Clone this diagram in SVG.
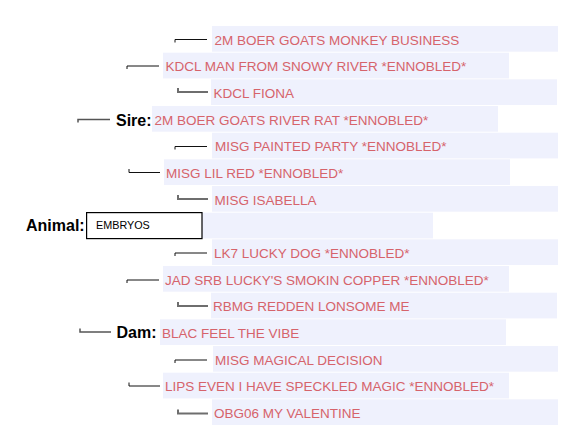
<svg xmlns="http://www.w3.org/2000/svg" width="588" height="442" viewBox="0 0 588 442">
<style>
.bg{fill:#eff1fd}
.t{font-family:"Liberation Sans",Arial,sans-serif;font-size:13.5px;fill:#d6636b}
.lb{font-family:"Liberation Sans",Arial,sans-serif;font-size:16px;font-weight:bold;fill:#000}
.cd{fill:none;stroke:#111;stroke-width:1}
.cg{fill:none;stroke:#6e6e6e;stroke-width:2}
.cm{fill:none;stroke:#555;stroke-width:1.5}
.box{fill:#fff;stroke:#000;stroke-width:1.2}
.bt{font-family:"Liberation Sans",Arial,sans-serif;font-size:10.8px;fill:#000}
</style>
<rect width="588" height="442" fill="#fff"/>
<g id="connectors">
<path class="cd" d="M175 42.5V39.5H207"/>
<path class="cd" d="M127 69V66H159"/>
<path class="cg" d="M178 88V92H208"/>
<path class="cm" d="M78 122.5V119.5H110"/>
<path class="cd" d="M175 149.5V146.5H207"/>
<path class="cd" d="M129 169V172.5H160"/>
<path class="cg" d="M178 195V199H208"/>
<path class="cd" d="M175 256V253H207"/>
<path class="cd" d="M127 283V280H159"/>
<path class="cg" d="M178 302V306H208"/>
<path class="cm" d="M80 328.5V332H111"/>
<path class="cd" d="M175 363V360H207"/>
<path class="cd" d="M129 382.5V386H160"/>
<path class="cg" d="M178 409.5V413.5H208"/>
</g>
<g id="sire-sire-sire"><rect class="bg" x="212" y="26" width="346" height="25.7"/><text class="t" x="214.5" y="44.5">2M BOER GOATS MONKEY BUSINESS</text></g>
<g id="sire-sire"><rect class="bg" x="163" y="52.7" width="346" height="25.7"/><text class="t" x="165.5" y="71.2">KDCL MAN FROM SNOWY RIVER *ENNOBLED*</text></g>
<g id="sire-sire-dam"><rect class="bg" x="211" y="79.3" width="346" height="25.7"/><text class="t" x="213.5" y="97.8">KDCL FIONA</text></g>
<g id="sire"><text class="lb" x="116" y="125.5">Sire:</text><rect class="bg" x="152" y="106" width="346" height="25.7"/><text class="t" x="154.5" y="124.5">2M BOER GOATS RIVER RAT *ENNOBLED*</text></g>
<g id="sire-dam-sire"><rect class="bg" x="212" y="132.7" width="346" height="25.7"/><text class="t" x="215" y="151.2">MISG PAINTED PARTY *ENNOBLED*</text></g>
<g id="sire-dam"><rect class="bg" x="164" y="159.3" width="346" height="25.7"/><text class="t" x="166" y="177.8">MISG LIL RED *ENNOBLED*</text></g>
<g id="sire-dam-dam"><rect class="bg" x="212" y="186" width="346" height="25.7"/><text class="t" x="214.5" y="204.5">MISG ISABELLA</text></g>
<g id="animal"><text class="lb" x="26" y="230.5">Animal:</text><rect class="bg" x="202" y="212.7" width="231" height="25.7"/><rect class="box" x="86.6" y="212.6" width="115.4" height="26"/><text class="bt" x="96" y="228.5">EMBRYOS</text></g>
<g id="dam-sire-sire"><rect class="bg" x="212" y="239.3" width="346" height="25.7"/><text class="t" x="214" y="257.8">LK7 LUCKY DOG *ENNOBLED*</text></g>
<g id="dam-sire"><rect class="bg" x="163" y="266" width="346" height="25.7"/><text class="t" x="165" y="284.5">JAD SRB LUCKY'S SMOKIN COPPER *ENNOBLED*</text></g>
<g id="dam-sire-dam"><rect class="bg" x="211" y="292.7" width="346" height="25.7"/><text class="t" x="213" y="311.2">RBMG REDDEN LONSOME ME</text></g>
<g id="dam"><text class="lb" x="116.5" y="337.5">Dam:</text><rect class="bg" x="160" y="319.3" width="346" height="25.7"/><text class="t" x="162" y="337.8">BLAC FEEL THE VIBE</text></g>
<g id="dam-dam-sire"><rect class="bg" x="213" y="346" width="345" height="25.7"/><text class="t" x="215" y="364.5">MISG MAGICAL DECISION</text></g>
<g id="dam-dam"><rect class="bg" x="163" y="372.7" width="346" height="25.7"/><text class="t" x="165" y="391.2">LIPS EVEN I HAVE SPECKLED MAGIC *ENNOBLED*</text></g>
<g id="dam-dam-dam"><rect class="bg" x="212" y="399.3" width="346" height="25.7"/><text class="t" x="214" y="417.8">OBG06 MY VALENTINE</text></g>
</svg>
